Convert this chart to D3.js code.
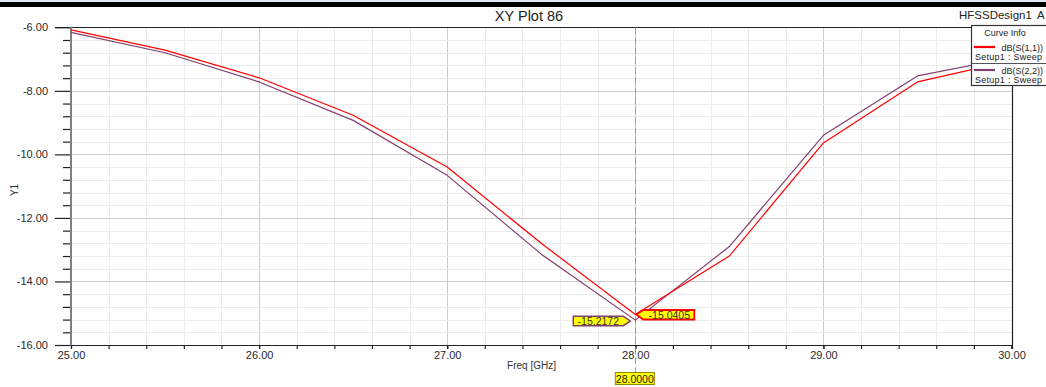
<!DOCTYPE html>
<html>
<head>
<meta charset="utf-8">
<script src="https://cdn.jsdelivr.net/npm/d3@7"></script>
<style>
  html, body { margin: 0; padding: 0; background: #fff; }
  svg { display: block; font-family: "Liberation Sans", Arial, sans-serif; }
</style>
</head>
<body>
<svg id="chart" width="1046" height="387"></svg>
<script>
// Frequency sweep (GHz) and return loss traces (dB)
const freqs = [25.0, 25.5, 26.0, 26.5, 27.0, 27.5, 28.0, 28.5, 29.0, 29.5, 30.0];
const s11 = [-6.08, -6.72, -7.59, -8.77, -10.40, -12.80, -15.0405, -13.20, -9.64, -7.72, -7.05];
const s22 = [-6.16, -6.80, -7.72, -8.93, -10.66, -13.14, -15.2172, -12.90, -9.40, -7.53, -6.95];
const seriesNames = ["dB(S(1,1))", "dB(S(2,2))"];
const setupName = "Setup1 : Sweep";
const xMajorTicks = [25, 26, 27, 28, 29, 30];
const yMajorTicks = [-16, -14, -12, -10, -8, -6];
const markerFreq = 28.0;

(function draw() {
const svg = d3.select("#chart");
const W = 1046;
const pL = 71, pR = 1011.5, pT = 27.3, pB = 345;

const x = d3.scaleLinear().domain([25, 30]).range([pL, pR]);
const y = d3.scaleLinear().domain([-16, -6]).range([pB, pT]);

const xMinor = d3.range(25, 30.0001, 0.2).map(v => +v.toFixed(1));
const yMinor = d3.range(-16, -5.9999, 0.4).map(v => +v.toFixed(1));
const fmt2 = v => v.toFixed(2);
const fmt4 = v => v.toFixed(4);

// window strip at the top
svg.append("rect").attr("x", 0).attr("y", 0).attr("width", W).attr("height", 2).attr("fill", "#dfe5ee");
svg.append("rect").attr("x", 0).attr("y", 2).attr("width", W).attr("height", 5).attr("fill", "#000");

// grid
const grid = svg.append("g");
grid.selectAll(".gx").data(xMinor).join("line")
  .attr("x1", d => Math.round(x(d)) + 0.5).attr("x2", d => Math.round(x(d)) + 0.5)
  .attr("y1", pT).attr("y2", pB)
  .attr("stroke", d => xMajorTicks.includes(d) ? "#cdcdcd" : "#ebebeb").attr("stroke-width", 1);
grid.selectAll(".gy").data(yMinor).join("line")
  .attr("y1", d => Math.round(y(d)) + 0.5).attr("y2", d => Math.round(y(d)) + 0.5)
  .attr("x1", pL).attr("x2", pR)
  .attr("stroke", d => yMajorTicks.includes(d) ? "#cdcdcd" : "#ebebeb").attr("stroke-width", 1);

// frame: top and right
svg.append("line").attr("x1", 55).attr("x2", pR + 0.5).attr("y1", Math.round(pT) + 0.5).attr("y2", Math.round(pT) + 0.5)
  .attr("stroke", "#222").attr("stroke-width", 1.2);
svg.append("line").attr("x1", Math.round(pR) + 0.5).attr("x2", Math.round(pR) + 0.5).attr("y1", pT).attr("y2", pB + 4)
  .attr("stroke", "#222").attr("stroke-width", 1.2);

// y axis
const yMinorAxis = d3.axisLeft(y).tickValues(yMinor.filter(v => !yMajorTicks.includes(v))).tickSize(8).tickFormat("");
const yMajorAxis = d3.axisLeft(y).tickValues(yMajorTicks).tickSize(16).tickPadding(7).tickFormat(fmt2);
const gyMinor = svg.append("g").attr("transform", `translate(${pL},0)`).call(yMinorAxis);
const gyMajor = svg.append("g").attr("transform", `translate(${pL},0)`).call(yMajorAxis);
[gyMinor, gyMajor].forEach(g => {
  g.select(".domain").remove();
  g.selectAll(".tick line").attr("stroke", "#222").attr("stroke-width", 1.2);
});
gyMajor.selectAll(".tick text").attr("fill", "#2a2a2a").style("font-size", "11px");
svg.append("line").attr("x1", pL).attr("x2", pL).attr("y1", pT - 0.5).attr("y2", pB + 1)
  .attr("stroke", "#808080").attr("stroke-width", 2);

// x axis
const xMinorAxis = d3.axisBottom(x).tickValues(xMinor).tickSize(4).tickFormat("");
const xMajorAxis = d3.axisBottom(x).tickValues(xMajorTicks).tickSize(4).tickPadding(2).tickFormat(fmt2);
const gxMinor = svg.append("g").attr("transform", `translate(0,${pB})`).call(xMinorAxis);
const gxMajor = svg.append("g").attr("transform", `translate(0,${pB})`).call(xMajorAxis);
[gxMinor, gxMajor].forEach(g => {
  g.select(".domain").remove();
  g.selectAll(".tick line").attr("stroke", "#222").attr("stroke-width", 1.2);
});
gxMajor.selectAll(".tick text").attr("fill", "#2a2a2a").style("font-size", "11px");
svg.append("line").attr("x1", pL).attr("x2", pR + 0.5).attr("y1", pB + 0.5).attr("y2", pB + 0.5)
  .attr("stroke", "#222").attr("stroke-width", 1.2);

// marker line
svg.append("line").attr("x1", Math.round(x(markerFreq)) + 0.5).attr("x2", Math.round(x(markerFreq)) + 0.5)
  .attr("y1", pT).attr("y2", 372)
  .attr("stroke", "#9a9a9a").attr("stroke-width", 1).attr("stroke-dasharray", "7,3");

// traces
const colors = ["#ff0000", "#80406e"];
const traces = [s11, s22];
const line = d3.line().x((d, i) => x(freqs[i])).y(d => y(d));
[1, 0].forEach(idx => {
  svg.append("path").datum(traces[idx]).attr("d", line)
    .attr("fill", "none").attr("stroke", colors[idx]).attr("stroke-width", 1.2).attr("stroke-linejoin", "round");
});

// marker value labels
const mi = freqs.indexOf(markerFreq);
const px = x(markerFreq);
{
  // S(2,2) label, to the left of the point
  const py = y(s22[mi]);
  const pts = [[px - 62, py - 4], [px - 12, py - 4], [px - 5, py + 1], [px - 12, py + 5.5], [px - 62, py + 5.5]];
  svg.append("path").attr("d", "M" + pts.join("L") + "Z")
    .attr("fill", "#ffff00").attr("stroke", colors[1]).attr("stroke-width", 1.5);
  svg.append("text").attr("x", px - 37).attr("y", py + 5).attr("text-anchor", "middle")
    .attr("fill", "#333").style("font-size", "10.5px").text(fmt4(s22[mi]));
}
{
  // S(1,1) label, to the right of the point
  const py = y(s11[mi]);
  const pts = [[px + 1, py], [px + 8, py - 4.5], [px + 59, py - 4.5], [px + 59, py + 5], [px + 8, py + 5]];
  svg.append("path").attr("d", "M" + pts.join("L") + "Z")
    .attr("fill", "#ffff00").attr("stroke", colors[0]).attr("stroke-width", 1.8);
  svg.append("text").attr("x", px + 34).attr("y", py + 4.5).attr("text-anchor", "middle")
    .attr("fill", "#333").style("font-size", "10.5px").text(fmt4(s11[mi]));
}

// marker frequency label under the axis
svg.append("rect").attr("x", px - 20).attr("y", 372.5).attr("width", 39).attr("height", 12)
  .attr("fill", "#ffff00").attr("stroke", "#8a8a00").attr("stroke-width", 1);
svg.append("text").attr("x", px - 0.5).attr("y", 382.5).attr("text-anchor", "middle")
  .attr("fill", "#222").style("font-size", "10.5px").text(fmt4(markerFreq));

// titles
svg.append("text").attr("x", 529).attr("y", 21).attr("text-anchor", "middle")
  .attr("fill", "#222").style("font-size", "14.5px").text("XY Plot 86");
svg.append("text").attr("x", 959).attr("y", 19)
  .attr("fill", "#222").style("font-size", "11.5px").text("HFSSDesign1");
svg.append("text").attr("x", 1037).attr("y", 19)
  .attr("fill", "#222").style("font-size", "11.5px").text("A");
svg.append("text").attr("x", 556).attr("y", 369).attr("text-anchor", "end")
  .attr("fill", "#333").style("font-size", "10px").text("Freq [GHz]");
svg.append("text").attr("transform", "translate(18,190) rotate(-90)").attr("text-anchor", "middle")
  .attr("fill", "#333").style("font-size", "10px").text("Y1");

// legend
const lg = svg.append("g");
lg.append("rect").attr("x", 971.5).attr("y", 25.5).attr("width", 90).attr("height", 60)
  .attr("fill", "#fff").attr("stroke", "#333").attr("stroke-width", 1.2);
lg.append("text").attr("x", 1005).attr("y", 36).attr("text-anchor", "middle")
  .attr("fill", "#222").style("font-size", "9px").text("Curve Info");
lg.append("line").attr("x1", 971.5).attr("x2", 1046).attr("y1", 63.5).attr("y2", 63.5)
  .attr("stroke", "#555").attr("stroke-width", 1);
seriesNames.forEach((name, i) => {
  const yy = 47 + i * 23;
  lg.append("line").attr("x1", 974).attr("x2", 995).attr("y1", yy).attr("y2", yy)
    .attr("stroke", colors[i]).attr("stroke-width", 2.2);
  lg.append("text").attr("x", 1043).attr("y", yy + 3.5).attr("text-anchor", "end")
    .attr("fill", "#222").style("font-size", "9px").text(name);
  lg.append("text").attr("x", 975).attr("y", yy + 12.5)
    .attr("fill", "#222").style("font-size", "9px").attr("textLength", 67).text(setupName);
});
})();
</script>
</body>
</html>
